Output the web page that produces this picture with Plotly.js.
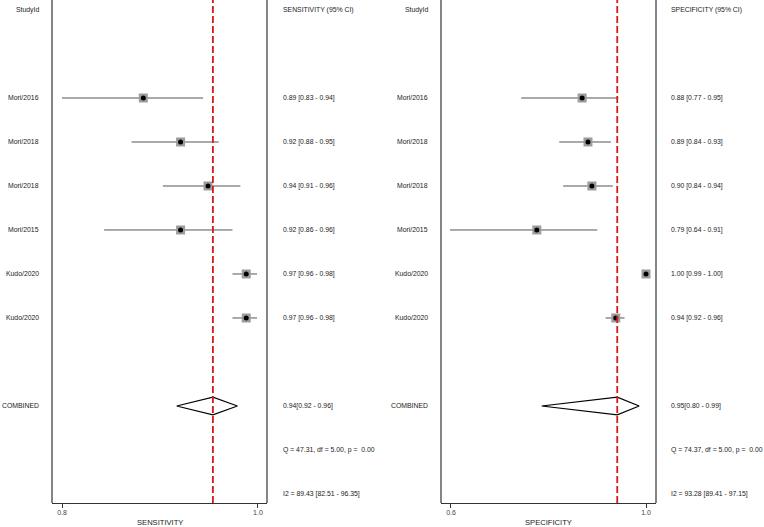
<!DOCTYPE html>
<html>
<head>
<meta charset="utf-8">
<script src="https://cdn.plot.ly/plotly-3.0.1.min.js"></script>
<style>html,body{margin:0;padding:0;background:#fff;}#chart{width:764px;height:527px;}</style>
</head>
<body>
<div id="chart"></div>
<script>
// ---- data ----
var studies = ['Mori/2016','Mori/2018','Mori/2018','Mori/2015','Kudo/2020','Kudo/2020'];
var sensEst = [0.883, 0.921, 0.949, 0.921, 0.988, 0.988];
var sensLo  = [0.800, 0.871, 0.903, 0.843, 0.974, 0.974];
var sensHi  = [0.944, 0.960, 0.982, 0.974, 0.999, 0.999];
var sensLabels = ['0.89 [0.83 - 0.94]','0.92 [0.88 - 0.95]','0.94 [0.91 - 0.96]','0.92 [0.86 - 0.96]','0.97 [0.96 - 0.98]','0.97 [0.96 - 0.98]'];
var specEst = [0.869, 0.881, 0.889, 0.776, 1.000, 0.938];
var specLo  = [0.744, 0.822, 0.830, 0.598, 0.993, 0.917];
var specHi  = [0.943, 0.928, 0.932, 0.900, 1.000, 0.956];
var specLabels = ['0.88 [0.77 - 0.95]','0.89 [0.84 - 0.93]','0.90 [0.84 - 0.94]','0.79 [0.64 - 0.91]','1.00 [0.99 - 1.00]','0.94 [0.92 - 0.96]'];
var sensPooled = [0.917, 0.954, 0.979]; // lo, est, hi
var specPooled = [0.786, 0.941, 0.986];
var sensPooledLabel = '0.94[0.92 - 0.96]';
var specPooledLabel = '0.95[0.80 - 0.99]';
var sensQ = 'Q = 47.31, df = 5.00, p =\u00a0 0.00';
var specQ = 'Q = 74.37, df = 5.00, p =\u00a0 0.00';
var sensI2 = 'I2 = 89.43 [82.51 - 96.35]';
var specI2 = 'I2 = 93.28 [89.41 - 97.15]';
var headers = ['StudyId','SENSITIVITY (95% CI)','SPECIFICITY (95% CI)'];
var xTitles = ['SENSITIVITY','SPECIFICITY'];
var sensTicks = [0.8, 1.0], sensTickText = ['0.8','1.0'];
var specTicks = [0.6, 1.0], specTickText = ['0.6','1.0'];

// ---- layout helpers ----
var W = 764;
var rows = studies.map(function(_, i){ return i + 2; });
var combRow = 9, qRow = 10, i2Row = 11;
var font = {family: 'Liberation Sans, Arial, sans-serif', size: 6.85, color: '#1a1a1a'};
var lineCol = '#555';

function panelTraces(est, lo, hi, pooled, xa) {
  var t = [];
  t.push({x: est, y: rows, xaxis: xa, yaxis: 'y', type: 'scatter', mode: 'markers',
    marker: {symbol: 'square', size: 9, color: '#9c9c9c', line: {width: 0}},
    error_x: {type: 'data', symmetric: false,
      array: est.map(function(v, i){ return hi[i] - v; }),
      arrayminus: est.map(function(v, i){ return v - lo[i]; }),
      color: lineCol, thickness: 1, width: 0},
    hoverinfo: 'skip'});
  t.push({x: est, y: rows, xaxis: xa, yaxis: 'y', type: 'scatter', mode: 'markers',
    marker: {symbol: 'circle', size: 5, color: '#000'}, hoverinfo: 'skip'});
  var h = 0.2;
  t.push({x: [pooled[0], pooled[1], pooled[2], pooled[1], pooled[0]],
    y: [combRow, combRow - h, combRow, combRow + h, combRow],
    xaxis: xa, yaxis: 'y', type: 'scatter', mode: 'lines', fill: 'toself',
    fillcolor: '#fff', line: {color: '#000', width: 1.2}, hoverinfo: 'skip'});
  return t;
}

var data = panelTraces(sensEst, sensLo, sensHi, sensPooled, 'x')
  .concat(panelTraces(specEst, specLo, specHi, specPooled, 'x2'));

var L1 = 52, R1 = 267, L2 = 441, R2 = 656;
var labRight1 = 39, labRight2 = 428, txt1 = 282.5, txt2 = 670.5;

var ann = [];
function addText(px, row, text, anchor) {
  ann.push({xref: 'paper', yref: 'y', x: px / W, y: row, text: text, showarrow: false,
    xanchor: anchor, yanchor: 'middle', font: font, borderpad: 0, borderwidth: 0});
}
addText(labRight1, 0, headers[0], 'right');
addText(labRight2, 0, headers[0], 'right');
addText(txt1, 0, headers[1], 'left');
addText(txt2, 0, headers[2], 'left');
studies.forEach(function(s, i){
  addText(labRight1, rows[i], s, 'right');
  addText(labRight2, rows[i], s, 'right');
  addText(txt1, rows[i], sensLabels[i], 'left');
  addText(txt2, rows[i], specLabels[i], 'left');
});
addText(labRight1, combRow, 'COMBINED', 'right');
addText(labRight2, combRow, 'COMBINED', 'right');
addText(txt1, combRow, sensPooledLabel, 'left');
addText(txt2, combRow, specPooledLabel, 'left');
addText(txt1, qRow, sensQ, 'left');
addText(txt2, qRow, specQ, 'left');
addText(txt1, i2Row, sensI2, 'left');
addText(txt2, i2Row, specI2, 'left');
// axis titles
[[ (L1 + R1) / 2, xTitles[0]], [(L2 + R2) / 2, xTitles[1]]].forEach(function(p){
  ann.push({xref: 'paper', yref: 'paper', x: p[0] / W, y: -19.5 / 503, text: p[1], showarrow: false,
    xanchor: 'center', yanchor: 'middle', borderpad: 0, font: {family: font.family, size: 7.6, color: '#1a1a1a'}});
});

var boxCol = '#333';
var shapes = [];
[['x', L1, R1], ['x2', L2, R2]].forEach(function(p){
  shapes.push({type: 'line', xref: 'paper', yref: 'paper', x0: p[1] / W, x1: p[1] / W, y0: 0, y1: 1.02, line: {color: boxCol, width: 1.2}});
  shapes.push({type: 'line', xref: 'paper', yref: 'paper', x0: p[2] / W, x1: p[2] / W, y0: 0, y1: 1.02, line: {color: boxCol, width: 1.2}});
});
shapes.push({type: 'line', xref: 'x', yref: 'paper', x0: sensPooled[1], x1: sensPooled[1], y0: 0, y1: 1, line: {color: '#d7191c', width: 1.8, dash: '7px,3px'}});
shapes.push({type: 'line', xref: 'x2', yref: 'paper', x0: specPooled[1], x1: specPooled[1], y0: 0, y1: 1, line: {color: '#d7191c', width: 1.8, dash: '7px,3px'}});

var axBase = {showgrid: false, zeroline: false, showline: true, linecolor: boxCol, linewidth: 1.2,
  ticks: 'outside', ticklen: 4, tickcolor: boxCol, tickwidth: 1, ticklabelstandoff: -2,
  tickfont: {family: font.family, size: 7, color: '#444'}, anchor: 'y', fixedrange: true};

var layout = {
  width: 764, height: 527,
  margin: {l: 0, r: 0, t: 0, b: 24, pad: 0},
  paper_bgcolor: '#fff', plot_bgcolor: '#fff',
  showlegend: false, hovermode: false,
  xaxis: Object.assign({}, axBase, {domain: [L1 / W, R1 / W], range: [0.7898, 1.0092], tickvals: sensTicks, ticktext: sensTickText}),
  xaxis2: Object.assign({}, axBase, {domain: [L2 / W, R2 / W], range: [0.5795, 1.0205], tickvals: specTicks, ticktext: specTickText}),
  yaxis: {range: [11.205, -0.227], visible: false, showgrid: false, zeroline: false, fixedrange: true},
  annotations: ann,
  shapes: shapes
};

Plotly.newPlot('chart', data, layout, {displayModeBar: false, staticPlot: true});
</script>
</body>
</html>
